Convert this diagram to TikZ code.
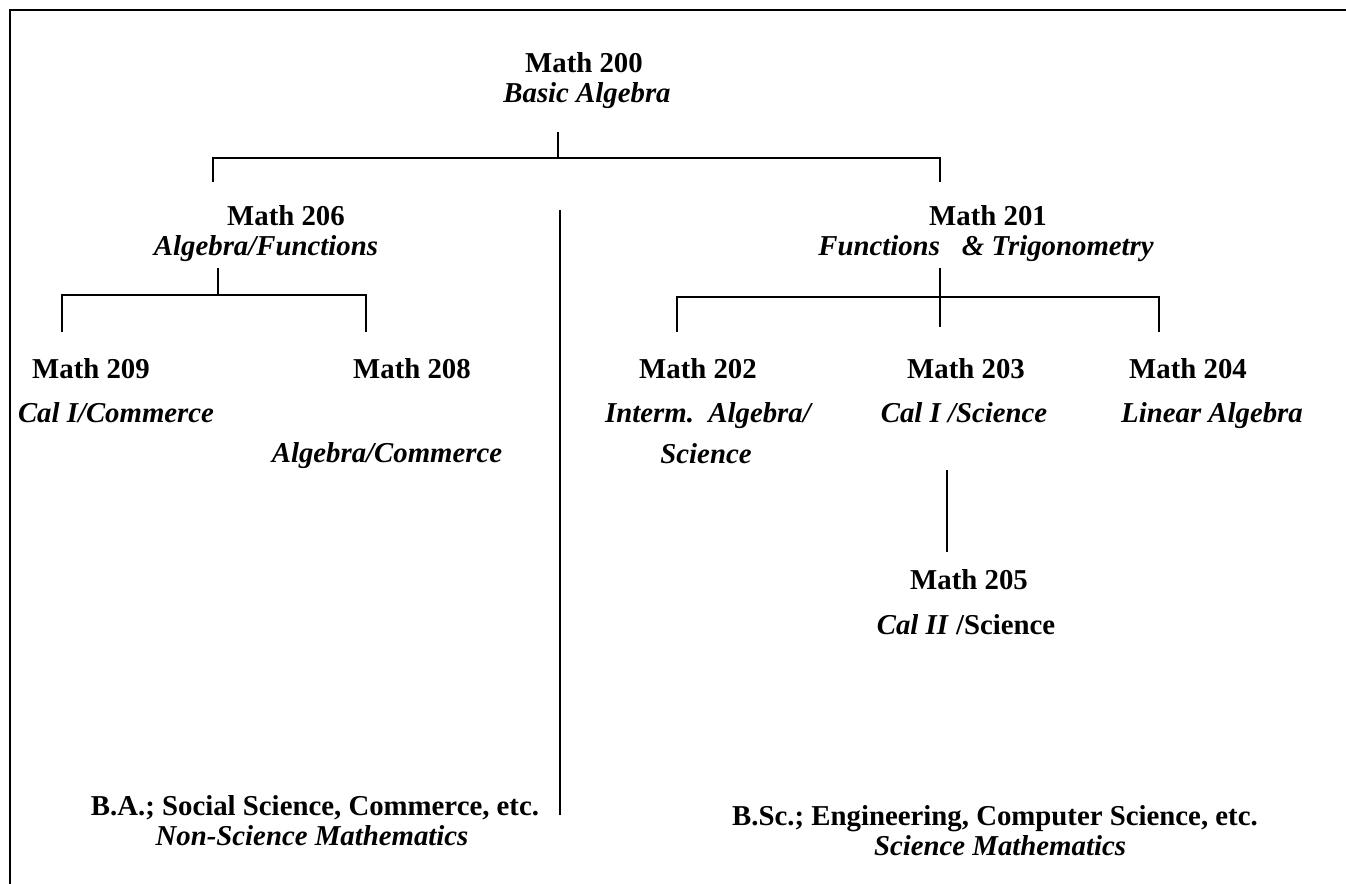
\documentclass[tikz,border=0pt]{standalone}
\usepackage{fontspec}
\setmainfont{Liberation Serif}
\begin{document}
\begin{tikzpicture}[x=0.5pt,y=-0.5pt,line width=1pt,
  num/.style={font=\fontsize{14.4}{16}\selectfont\bfseries,anchor=base,inner sep=0pt},
  ttl/.style={font=\fontsize{14.4}{16}\selectfont\bfseries\itshape,anchor=base,inner sep=0pt}]
\useasboundingbox (0,0) rectangle (1346,884);
\draw (1346,10) -- (10,10) -- (10,884);
% level 0
\node[num] (m200) at (584,72) {Math 200};
\node[ttl] (m200t) at (587,102) {Basic Algebra};
\coordinate (j0) at (558,158);
\coordinate (j0l) at (213,158);
\coordinate (j0r) at (940,158);
\draw (558,132) -- (j0);
\draw (213,182) -- (j0l) -- (j0r) -- (940,182);
% Math 206
\node[num] (m206) at (286,225) {Math 206};
\node[ttl] (m206t) at (266,255) {Algebra/Functions};
\coordinate (j1) at (218,295);
\draw (218,268) -- (j1);
\draw (62,332) -- (62,295) -- (366,295) -- (366,332);
% Math 201
\node[num] (m201) at (988,225) {Math 201};
\node[ttl] (m201t) at (986,255) {Functions\hspace{11pt}\& Trigonometry};
\draw (940,268) -- (940,327);
\draw (677,332) -- (677,297) -- (1159,297) -- (1159,332);
% level 2 left
\node[num] (m209) at (91,378) {Math 209};
\node[ttl] (m209t) at (116,422) {Cal I/Commerce};
\node[num] (m208) at (412,378) {Math 208};
\node[ttl] (m208t) at (387,462) {Algebra/Commerce};
% level 2 right
\node[num] (m202) at (698,378) {Math 202};
\node[ttl] (m202t) at (708,422) {Interm.\ \ Algebra/};
\node[ttl] (m202u) at (706,463) {Science};
\node[num] (m203) at (966,378) {Math 203};
\node[ttl] (m203t) at (964,422) {Cal I /Science};
\node[num] (m204) at (1188,378) {Math 204};
\node[ttl] (m204t) at (1212,422) {Linear Algebra};
\coordinate (c203) at (947,470);
\coordinate (c205) at (947,552);
\draw (c203) -- (c205);
\node[num] (m205) at (969,589) {Math 205};
\node[num] (m205t) at (966,634) {\textit{Cal II} /Science};
% divider
\coordinate (dtop) at (560,210);
\coordinate (dbot) at (560,815);
\draw (dtop) -- (dbot);
% bottom labels
\node[num] (ba) at (315,815) {B.A.; Social Science, Commerce, etc.};
\node[ttl] (bat) at (312,845) {Non-Science Mathematics};
\node[num] (bsc) at (995,825) {B.Sc.; Engineering, Computer Science, etc.};
\node[ttl] (bsct) at (1000,855) {Science Mathematics};
\end{tikzpicture}
\end{document}
